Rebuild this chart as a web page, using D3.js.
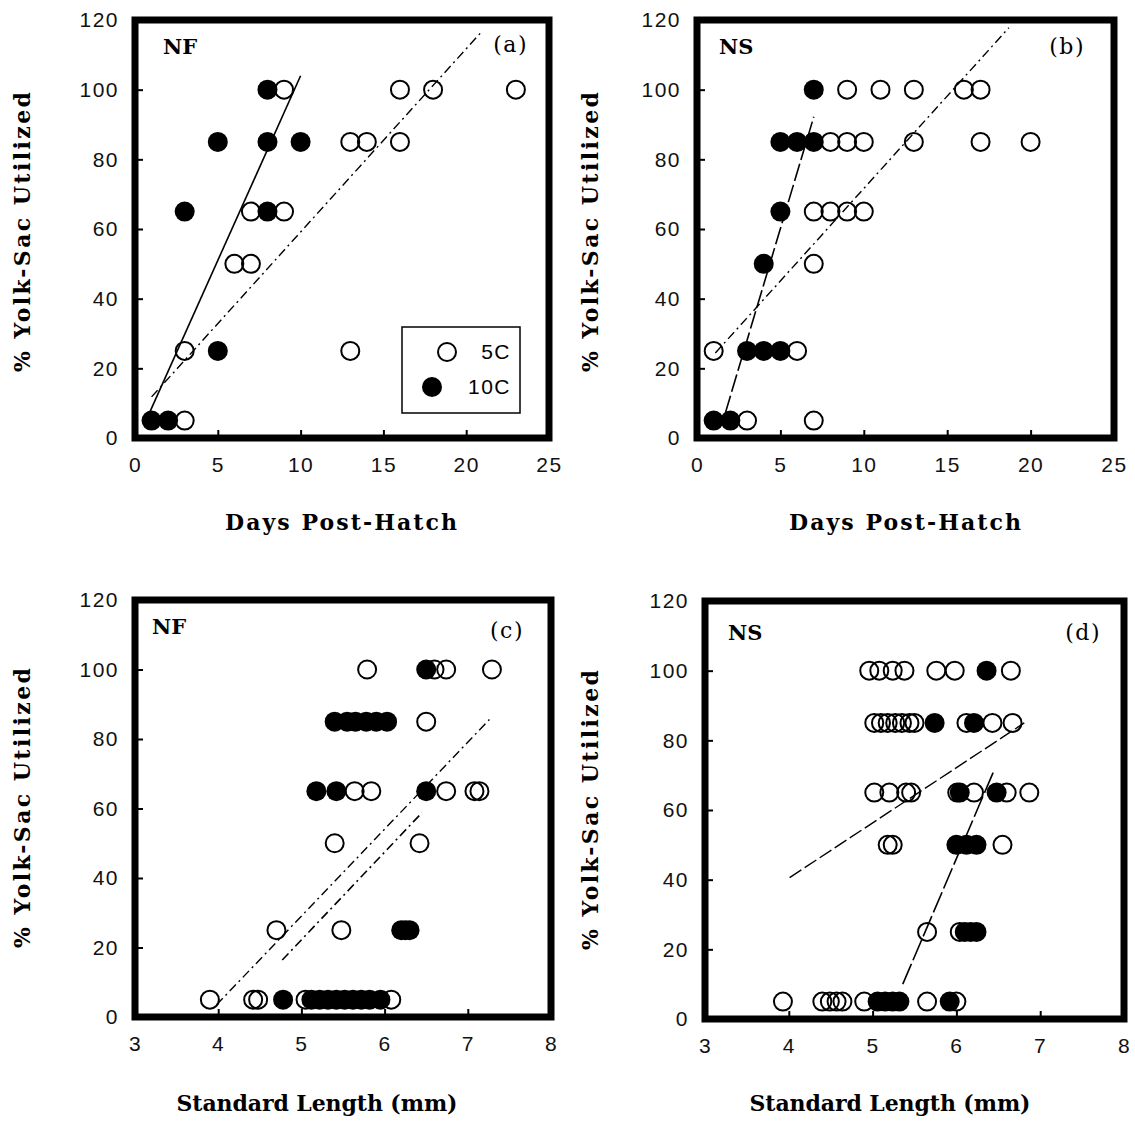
<!DOCTYPE html>
<html>
<head>
<meta charset="utf-8">
<script src="https://cdn.jsdelivr.net/npm/d3@7"></script>
<style>
  body { margin: 0; background: #fff; }
  svg { display: block; }
</style>
</head>
<body>
<svg id="chart" width="1135" height="1122"></svg>
<script>
// values: [x, % yolk-sac utilized]
// (a) NF vs days post-hatch
const nfDays5C = [[3, 5], [3, 25], [13, 25], [6, 50], [7, 50], [7, 65], [9, 65],
  [13, 85], [14, 85], [16, 85], [9, 100], [16, 100], [18, 100], [23, 100]];
const nfDays10C = [[1, 5], [2, 5], [5, 25], [3, 65], [8, 65], [5, 85], [8, 85], [10, 85], [8, 100]];
const nfDaysFit5C = [[1, 11.8], [21, 117]];
const nfDaysFit10C = [[0.9, 7.5], [10, 104]];

// (b) NS vs days post-hatch
const nsDays5C = [[3, 5], [7, 5], [1, 25], [6, 25], [7, 50], [7, 65], [8, 65], [9, 65], [10, 65],
  [8, 85], [9, 85], [10, 85], [13, 85], [17, 85], [20, 85],
  [9, 100], [11, 100], [13, 100], [16, 100], [17, 100]];
const nsDays10C = [[1, 5], [2, 5], [3, 25], [4, 25], [5, 25], [4, 50], [5, 65],
  [5, 85], [6, 85], [7, 85], [7, 100]];
const nsDaysFit5C = [[1.1, 24.4], [18.7, 117.8]];
const nsDaysFit10C = [[1.7, 7.2], [7, 92.2]];

// (c) NF vs standard length (mm)
const nfLen5C = [[3.9, 5], [4.42, 5], [4.48, 5], [5.05, 5], [6.08, 5], [4.7, 25], [5.48, 25],
  [5.4, 50], [6.42, 50], [5.64, 65], [5.84, 65], [6.74, 65], [7.08, 65], [7.14, 65],
  [6.5, 85], [5.79, 100], [6.6, 100], [6.74, 100], [7.29, 100]];
const nfLen10C = [[4.78, 5], [5.12, 5], [5.22, 5], [5.32, 5], [5.42, 5], [5.52, 5], [5.62, 5],
  [5.72, 5], [5.82, 5], [5.95, 5], [6.2, 25], [6.25, 25], [6.3, 25],
  [5.18, 65], [5.42, 65], [6.5, 65],
  [5.4, 85], [5.55, 85], [5.65, 85], [5.78, 85], [5.9, 85], [6.03, 85], [6.5, 100]];
const nfLenFit5C = [[3.98, 3.5], [7.26, 85.6]];
const nfLenFit10C = [[4.77, 16.4], [6.45, 58.8]];

// (d) NS vs standard length (mm)
const nsLen5C = [[3.93, 5], [4.4, 5], [4.49, 5], [4.57, 5], [4.64, 5], [4.9, 5], [5.65, 5], [6.0, 5],
  [5.65, 25], [6.04, 25], [5.18, 50], [5.24, 50], [6.55, 50],
  [5.02, 65], [5.2, 65], [5.4, 65], [5.46, 65], [6.01, 65], [6.21, 65], [6.6, 65], [6.87, 65],
  [5.02, 85], [5.1, 85], [5.18, 85], [5.27, 85], [5.35, 85], [5.44, 85], [5.5, 85],
  [6.12, 85], [6.43, 85], [6.67, 85],
  [4.96, 100], [5.08, 100], [5.24, 100], [5.38, 100], [5.76, 100], [5.98, 100], [6.65, 100]];
const nsLen10C = [[5.06, 5], [5.15, 5], [5.24, 5], [5.32, 5], [5.92, 5],
  [6.1, 25], [6.17, 25], [6.24, 25], [6.0, 50], [6.12, 50], [6.24, 50],
  [6.04, 65], [6.48, 65], [5.74, 85], [6.21, 85], [6.36, 100]];
const nsLenFit5C = [[4.01, 40.6], [6.81, 85]];
const nsLenFit10C = [[5.36, 10], [6.45, 71.4]];

const dayTicks = [0, 5, 10, 15, 20, 25];
const lengthTicks = [3, 4, 5, 6, 7, 8];
const pctTicks = [0, 20, 40, 60, 80, 100, 120];

const panels = [
  { stock: 'NF', tag: '(a)', x: [135, 549], y: [438, 20], xTicks: dayTicks,
    open: nfDays5C, filled: nfDays10C, fitOpen: nfDaysFit5C, fitFilled: nfDaysFit10C,
    dashOpen: '9,4,2,4', dashFilled: null,
    xTitle: 'Days Post-Hatch', xTitlePos: [341, 530], yTitlePos: [22, 232],
    stockPos: [163, 54], tagPos: [528, 52], legend: true },
  { stock: 'NS', tag: '(b)', x: [697, 1114], y: [438, 20], xTicks: dayTicks,
    open: nsDays5C, filled: nsDays10C, fitOpen: nsDaysFit5C, fitFilled: nsDaysFit10C,
    dashOpen: '9,4,2,4', dashFilled: '18,4',
    xTitle: 'Days Post-Hatch', xTitlePos: [905, 530], yTitlePos: [590, 232],
    stockPos: [719, 54], tagPos: [1085, 54] },
  { stock: 'NF', tag: '(c)', x: [135, 551], y: [1017, 600], xTicks: lengthTicks,
    open: nfLen5C, filled: nfLen10C, fitOpen: nfLenFit5C, fitFilled: nfLenFit10C,
    dashOpen: '9,4,2,4', dashFilled: '9,4,2,4',
    xTitle: 'Standard Length (mm)', xTitlePos: [317, 1111], yTitlePos: [22, 808],
    stockPos: [152, 634], tagPos: [524, 638] },
  { stock: 'NS', tag: '(d)', x: [705, 1124], y: [1019, 601], xTicks: lengthTicks,
    open: nsLen5C, filled: nsLen10C, fitOpen: nsLenFit5C, fitFilled: nsLenFit10C,
    dashOpen: '14,4', dashFilled: '22,4',
    xTitle: 'Standard Length (mm)', xTitlePos: [890, 1111], yTitlePos: [590, 810],
    stockPos: [728, 640], tagPos: [1101, 640] }
];

const svg = d3.select('#chart');
const serif = '"DejaVu Serif", "Liberation Serif", serif';
const sans = '"Liberation Sans", Arial, sans-serif';

panels.forEach(p => {
  const xs = d3.scaleLinear().domain(d3.extent(p.xTicks)).range(p.x);
  const ys = d3.scaleLinear().domain([0, 120]).range(p.y);
  const g = svg.append('g');

  // axes: inward ticks, labels outside
  const xAxis = d3.axisBottom(xs).tickValues(p.xTicks).tickFormat(d3.format('d'))
    .tickSizeInner(-8).tickSizeOuter(0).tickPadding(19);
  const yAxis = d3.axisLeft(ys).tickValues(pctTicks).tickFormat(d3.format('d'))
    .tickSizeInner(-8).tickSizeOuter(0).tickPadding(16);

  [[xAxis, `translate(0,${p.y[0]})`], [yAxis, `translate(${p.x[0]},0)`]].forEach(([ax, tr]) => {
    const a = g.append('g').attr('transform', tr).call(ax);
    a.select('.domain').remove();
    a.selectAll('.tick line').attr('stroke', '#000').attr('stroke-width', 2);
    a.selectAll('.tick text')
      .attr('font-family', sans)
      .attr('font-size', 21)
      .attr('letter-spacing', 1.5)
      .attr('fill', '#111');
  });

  // regression lines
  const line = d3.line().x(d => xs(d[0])).y(d => ys(d[1]));
  g.append('path').datum(p.fitOpen)
    .attr('d', line).attr('fill', 'none').attr('stroke', '#000')
    .attr('stroke-width', 1.4).attr('stroke-dasharray', p.dashOpen);
  g.append('path').datum(p.fitFilled)
    .attr('d', line).attr('fill', 'none').attr('stroke', '#000')
    .attr('stroke-width', 1.6).attr('stroke-dasharray', p.dashFilled);

  // points: 5C open, 10C filled on top
  g.selectAll('circle.open').data(p.open).join('circle')
    .attr('class', 'open')
    .attr('cx', d => xs(d[0])).attr('cy', d => ys(d[1]))
    .attr('r', 9).attr('fill', 'none').attr('stroke', '#000').attr('stroke-width', 2);
  g.selectAll('circle.filled').data(p.filled).join('circle')
    .attr('class', 'filled')
    .attr('cx', d => xs(d[0])).attr('cy', d => ys(d[1]))
    .attr('r', 10).attr('fill', '#000');

  // heavy frame
  g.append('rect')
    .attr('x', p.x[0]).attr('y', p.y[1])
    .attr('width', p.x[1] - p.x[0]).attr('height', p.y[0] - p.y[1])
    .attr('fill', 'none').attr('stroke', '#000').attr('stroke-width', 7);

  // stock and panel tags
  g.append('text').attr('x', p.stockPos[0]).attr('y', p.stockPos[1])
    .attr('font-family', serif).attr('font-weight', 'bold').attr('font-size', 21)
    .text(p.stock);
  g.append('text').attr('x', p.tagPos[0]).attr('y', p.tagPos[1])
    .attr('text-anchor', 'end')
    .attr('font-family', serif).attr('font-size', 22).attr('letter-spacing', 1.5)
    .text(p.tag);

  // axis titles
  g.append('text')
    .attr('x', p.xTitlePos[0]).attr('y', p.xTitlePos[1])
    .attr('text-anchor', 'middle')
    .attr('font-family', serif).attr('font-weight', 'bold').attr('font-size', 22)
    .attr('textLength', p.xTitle.length > 16 ? 281 : 232).attr('lengthAdjust', 'spacing')
    .text(p.xTitle);
  g.append('text')
    .attr('transform', `translate(${p.yTitlePos[0]},${p.yTitlePos[1]}) rotate(-90)`)
    .attr('text-anchor', 'middle').attr('dy', '0.35em')
    .attr('font-family', serif).attr('font-weight', 'bold').attr('font-size', 22)
    .attr('textLength', 280).attr('lengthAdjust', 'spacing')
    .text('% Yolk-Sac Utilized');

  if (p.legend) {
    const lg = g.append('g');
    lg.append('rect').attr('x', 402).attr('y', 327).attr('width', 118).attr('height', 86)
      .attr('fill', '#fff').attr('stroke', '#000').attr('stroke-width', 1.5);
    lg.append('circle').attr('cx', 447).attr('cy', 352).attr('r', 9)
      .attr('fill', 'none').attr('stroke', '#000').attr('stroke-width', 2);
    lg.append('circle').attr('cx', 432).attr('cy', 387).attr('r', 10).attr('fill', '#000');
    lg.append('text').attr('x', 511).attr('y', 359).attr('text-anchor', 'end')
      .attr('font-family', sans).attr('font-size', 21).attr('letter-spacing', 1.5).text('5C');
    lg.append('text').attr('x', 511).attr('y', 394).attr('text-anchor', 'end')
      .attr('font-family', sans).attr('font-size', 21).attr('letter-spacing', 1.5).text('10C');
  }
});
</script>
</body>
</html>
